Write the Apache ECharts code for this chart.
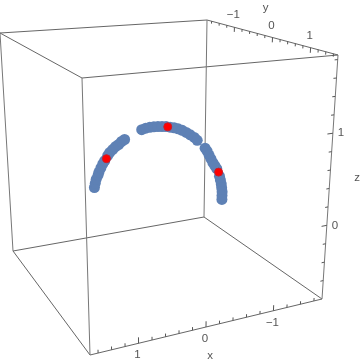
<!DOCTYPE html>
<html><head><meta charset="utf-8">
<script src="https://cdn.jsdelivr.net/npm/echarts@6/dist/echarts.min.js"></script>
<style>html,body{margin:0;padding:0;background:#fff}#c{width:360px;height:364px}</style>
</head><body><div id="c"></div>
<script>
// ---------- data ----------
const blueX = [0.978,0.963,0.947,0.916,0.901,0.870,0.839,0.808,0.761,0.730,0.683,0.637,0.590,0.544,0.497,
  0.233,0.171,0.109,0.047,-0.016,-0.078,-0.140,-0.202,-0.264,-0.326,-0.388,-0.450,-0.512,-0.575,-0.621,
  -0.745,-0.777,-0.808,-0.839,-0.870,-0.901,-0.932,-0.978,-0.994,-1.009,-1.017,-1.025,-1.025,-1.025];
const blueY = [0,0,0,0,0,0,0,0,0,0,0,0,0,0,0,
  0,0,0,0,0,0,0,0,0,0,0,0,0,0,0,
  0,0,0,0,0,0,0,0,0,0,0,0,0,0];
const blueZ = [0.360,0.404,0.447,0.490,0.522,0.564,0.606,0.637,0.689,0.720,0.749,0.778,0.796,0.825,0.843,
  0.929,0.940,0.944,0.944,0.942,0.936,0.930,0.918,0.906,0.888,0.865,0.835,0.801,0.765,0.727,
  0.624,0.586,0.537,0.489,0.441,0.404,0.366,0.271,0.224,0.176,0.131,0.085,0.039,-0.006];
const redX = [0.781,-0.166,-0.963];
const redY = [0,0,0];
const redZ = [0.657,0.925,0.321];

const xRange = [-1.72, 1.72];
const yRange = [-1.72, 1.72];
const zRange = [-0.8, 1.85];
const xMajor = [-1, 0, 1];
const yMajor = [-1, 0, 1];
const zMajor = [0, 1];
const xMinor = [-1.6,-1.4,-1.2,-0.8,-0.6,-0.4,-0.2,0.2,0.4,0.6,0.8,1.2,1.4,1.6];
const yMinor = [-1.6,-1.4,-1.2,-0.8,-0.6,-0.4,-0.2,0.2,0.4,0.6,0.8,1.2,1.4,1.6];
const zMinor = [-0.6,-0.4,-0.2,0.2,0.4,0.6,0.8,1.2,1.4,1.6,1.8];
const xTickLabels = ['\u22121','0','1'];
const yTickLabels = ['\u22121','0','1'];
const zTickLabels = ['0','1'];
const axisNames = ['x','y','z'];

// ---------- view (screen positions of the box corners: layout) ----------
const CORNER = {
  '000':[204,217], '100':[13,251], '010':[322,299], '110':[90,355],
  '001':[207,20],  '101':[0,33],   '011':[338,55],  '111':[82,78]
};
function lerp(a,b,t){return [a[0]+(b[0]-a[0])*t, a[1]+(b[1]-a[1])*t];}
function proj(x,y,z){
  const u=(x-xRange[0])/(xRange[1]-xRange[0]);
  const v=(y-yRange[0])/(yRange[1]-yRange[0]);
  const w=(z-zRange[0])/(zRange[1]-zRange[0]);
  const c=CORNER;
  const b00=lerp(c['000'],c['001'],w), b10=lerp(c['100'],c['101'],w);
  const b01=lerp(c['010'],c['011'],w), b11=lerp(c['110'],c['111'],w);
  const p0=lerp(b00,b10,u), p1=lerp(b01,b11,u);
  return lerp(p0,p1,v);
}

// box edges
const X=xRange, Y=yRange, Z=zRange;
const segs = [];
const segStyle = [];
function addSeg(a,b,col,lw){const p=proj(...a),q=proj(...b);segs.push([p[0],p[1],q[0],q[1]]);segStyle.push([col,lw]);}
for (const y of Y) for (const z of Z) addSeg([X[0],y,z],[X[1],y,z],'#666',1);
for (const x of X) for (const z of Z) addSeg([x,Y[0],z],[x,Y[1],z],'#666',1);
for (const x of X) for (const y of Y) addSeg([x,y,Z[0]],[x,y,Z[1]],'#777',1);

// ticks
const zs = Z[1]-Z[0], xs = X[1]-X[0];
for (const t of xMajor) addSeg([t,Y[1],Z[0]],[t,Y[1],Z[0]+0.022*zs],'#555',1);
for (const t of xMinor) addSeg([t,Y[1],Z[0]],[t,Y[1],Z[0]+0.012*zs],'#555',1);
for (const t of yMajor) addSeg([X[0],t,Z[1]],[X[0],t,Z[1]-0.022*zs],'#555',1);
for (const t of yMinor) addSeg([X[0],t,Z[1]],[X[0],t,Z[1]-0.012*zs],'#555',1);
for (const t of zMajor) addSeg([X[0],Y[1],t],[X[0]+0.022*xs,Y[1],t],'#555',1);
for (const t of zMinor) addSeg([X[0],Y[1],t],[X[0]+0.012*xs,Y[1],t],'#555',1);

// labels
const labels = [];
xMajor.forEach((t,i)=>{const p=proj(t,Y[1],Z[0]);labels.push({p:[p[0]-1,p[1]+12],text:xTickLabels[i],align:'center'});});
yMajor.forEach((t,i)=>{const p=proj(X[0],t,Z[1]);labels.push({p:[p[0]-1,p[1]-12],text:yTickLabels[i],align:'center'});});
zMajor.forEach((t,i)=>{const p=proj(X[0],Y[1],t);labels.push({p:[p[0]+5,p[1]],text:zTickLabels[i],align:'left'});});
{const p=proj(0,Y[1],Z[0]);labels.push({p:[p[0]+4,p[1]+29],text:axisNames[0],align:'center'});}
{const p=proj(X[0],0,Z[1]);labels.push({p:[p[0]-7,p[1]-30],text:axisNames[1],align:'center'});}
{const p=proj(X[0],Y[1],(Z[0]+Z[1])/2);labels.push({p:[p[0]+27,p[1]+1],text:axisNames[2],align:'center'});}

const chart = echarts.init(document.getElementById('c'));
chart.setOption({
  animation:false,
  backgroundColor:'#fff',
  grid:{left:0,top:0,right:0,bottom:0},
  xAxis:{type:'value',min:0,max:360,show:false},
  yAxis:{type:'value',min:0,max:364,inverse:true,show:false},
  series:[
    {type:'custom', data:segs, encode:{x:[0,2],y:[1,3]}, silent:true, z:1,
     renderItem:(params,api)=>{
       const a=api.coord([api.value(0),api.value(1)]), b=api.coord([api.value(2),api.value(3)]);
       const st=segStyle[params.dataIndex];
       return {type:'line',shape:{x1:a[0],y1:a[1],x2:b[0],y2:b[1]},style:{stroke:st[0],lineWidth:st[1]}};
     }},
    {type:'custom', data:labels.map(l=>l.p), encode:{x:0,y:1}, silent:true, z:2,
     renderItem:(params,api)=>{
       const a=api.coord([api.value(0),api.value(1)]);
       const l=labels[params.dataIndex];
       return {type:'text',x:a[0],y:a[1],style:{text:l.text,fill:'#555',font:'11.5px "Liberation Sans", Arial, sans-serif',align:l.align,verticalAlign:'middle'}};
     }},
    {type:'scatter', z:3, symbol:'circle', symbolSize:11,
     itemStyle:{color:'#5e81b5',opacity:1},
     data: blueX.map((x,i)=>proj(x,blueY[i],blueZ[i]))},
    {type:'scatter', z:4, symbol:'circle', symbolSize:8,
     itemStyle:{color:'#ff0000',opacity:1,borderColor:'#c81e2a',borderWidth:1},
     data: redX.map((x,i)=>proj(x,redY[i],redZ[i]))}
  ]
});
</script></body></html>
